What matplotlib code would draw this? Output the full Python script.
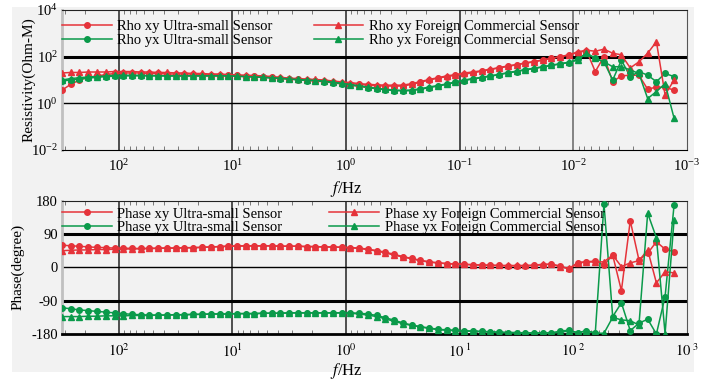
import matplotlib
matplotlib.use("Agg")
import matplotlib.pyplot as plt
from matplotlib.patches import Rectangle
from matplotlib.ticker import LogLocator, NullLocator, FixedLocator

plt.rcParams['font.family'] = ['Liberation Serif', 'DejaVu Serif']
plt.rcParams['mathtext.fontset'] = 'stix'

# frequencies (Hz), high to low
freq = [316, 265, 222, 186, 156, 130, 109, 91.5, 76.7, 64.2, 53.8, 45.1, 37.8,
        31.6, 26.5, 22.2, 18.6, 15.6, 13.0, 10.9, 9.15, 7.67, 6.42, 5.38, 4.51, 3.78,
        3.16, 2.65, 2.22, 1.86, 1.56, 1.30, 1.09, 0.915, 0.767, 0.642, 0.538, 0.451, 0.378,
        0.316, 0.265, 0.222, 0.186, 0.156, 0.130, 0.109, 0.0915, 0.0767, 0.0642, 0.0538, 0.0451, 0.0378,
        0.0316, 0.0265, 0.0222, 0.0186, 0.0156, 0.0130, 0.0109, 0.00915, 0.00767, 0.00642, 0.00538, 0.00451, 0.00378,
        0.00316, 0.00265, 0.00222, 0.00186, 0.00156, 0.00130]

# apparent resistivity (Ohm-m)
rho_xy_us = [3.7, 6.5, 10, 13, 15, 17, 19, 20, 20, 20, 19, 19, 18,
             18, 18, 18, 17, 17, 17, 16, 16, 15, 15, 14, 13, 12,
             11, 10.5, 10, 9.5, 9, 8.3, 7.7, 7, 6.5, 6, 5.7, 5.5, 5.5,
             5.5, 6.5, 8, 10, 12, 14, 16, 18, 20, 24, 28, 33, 38,
             45, 52, 60, 72, 85, 100, 120, 150, 180, 23, 100, 8.5, 15,
             16, 16, 4, 5, 4.8, 3.7]
rho_xy_f = [20, 21, 21, 22, 22, 22, 23, 23, 23, 22, 22, 21, 21,
            20, 20, 19, 19, 18, 18, 17, 16.5, 16, 15.5, 15, 14, 13,
            12, 11.5, 11, 10.5, 10, 9, 8.3, 7.7, 7, 6.5, 6.2, 6, 6,
            6, 7, 8.5, 10.5, 12.5, 15, 17, 20, 22, 25, 29, 34, 40,
            46, 54, 62, 72, 85, 100, 120, 160, 190, 170, 210, 140, 120,
            33, 60, 140, 440, 2.3, 10]
rho_yx_us = [9, 10, 11, 12, 13, 14, 14.5, 15, 15, 15, 15, 15, 15,
             15, 15, 15, 15, 15, 15, 15, 14.5, 14, 13.5, 13, 12, 11.5,
             11, 10, 9.5, 9, 8.5, 7.5, 6.8, 6, 5.3, 4.7, 4.2, 3.8, 3.5,
             3.4, 3.5, 4, 4.7, 5.5, 6.5, 8, 9.5, 11, 12.5, 14.5, 17, 20,
             23, 27, 31, 36, 42, 49, 56, 80, 140, 85, 60, 10, 70,
             14, 23, 16, 8.5, 19, 14]
rho_yx_f = [10, 11.5, 12.5, 13.5, 14, 15, 16, 16, 16, 16, 15.5, 15.5, 15,
            15, 15, 15, 15, 15, 15, 15, 14.5, 14, 13.5, 13, 12.5, 12,
            11, 10.5, 10, 9.5, 9, 8, 7.2, 6.4, 5.6, 5, 4.4, 4, 3.7,
            3.6, 3.7, 4.2, 5, 5.8, 6.8, 8.3, 10, 11.5, 13, 15, 17.5, 20.5,
            24, 28, 32, 37, 43, 50, 58, 70, 140, 85, 60, 37, 37,
            27, 19, 1.6, 3.2, 7, 0.23]

# impedance phase (degree)
ph_xy_us = [60, 58, 57, 55, 54, 53, 52, 52, 51, 51, 51, 52, 52,
            52, 53, 53, 54, 55, 56, 57, 58, 58, 58, 58, 58, 57,
            57, 57, 56, 56, 55, 55, 54, 53, 52, 49, 45, 41, 35,
            29, 24, 19, 15, 12, 10, 9, 8, 7, 6, 5, 5, 4,
            4, 4, 5, 7, 9, 3, -5, 11, 15, 17, 6, 33, -63,
            126, 20, 38, 69, 49, 42]
ph_xy_f = [45, 46, 47, 47, 48, 48, 49, 49, 50, 50, 51, 51, 52,
           52, 53, 53, 54, 55, 56, 57, 57, 58, 58, 58, 58, 57,
           57, 57, 56, 56, 55, 55, 54, 53, 51, 48, 44, 39, 33,
           28, 23, 18, 14, 12, 10, 9, 8, 7, 6, 6, 5, 5,
           5, 5, 6, 8, 8, 2, -3, 13, 15, 14, 15, 33, 2,
           12, 18, 47, -42, -12, -15]
ph_yx_us = [-109, -112, -115, -117, -119, -121, -123, -125, -127, -128, -129, -129, -129,
            -128, -128, -127, -127, -126, -126, -126, -125, -125, -125, -124, -124, -124,
            -123, -123, -123, -123, -123, -123, -123, -123, -124, -126, -130, -136, -143,
            -150, -156, -160, -164, -167, -169, -170, -171, -172, -173, -174, -175, -176,
            -176, -177, -177, -177, -177, -172, -170, -177, -171, -178, 171, -133, -96,
            -171, -151, -140, -180, -79, 168]
ph_yx_f = [-133, -133, -133, -132, -132, -131, -131, -131, -130, -130, -130, -129, -129,
           -128, -128, -127, -127, -126, -126, -126, -125, -125, -125, -124, -124, -124,
           -123, -123, -123, -123, -123, -123, -123, -124, -126, -129, -133, -139, -146,
           -152, -157, -161, -165, -168, -170, -171, -172, -173, -174, -175, -176, -176,
           -177, -177, -178, -178, -178, -175, -172, -176, -172, -178, -178, -135, -142,
           -144, -156, 146, 80, -179, 128]

phase_ticks = [-180, -90, 0, 90, 180]
phase_ticklabels = ['-180', '-90', '0', '90', '180']
freq_ticks = [1e2, 1e1, 1e0, 1e-1, 1e-2, 1e-3]
bottom_freq_labels = [r'$10^{2}$', r'$10^{1}$', r'$10^{0}$', r'$10^{\ 1}$', r'$10^{\ 2}$', r'$10^{\ 3}$']

RED = '#e5333a'
GREEN = '#0a9a4a'
BG = '#f2f2f2'

fig = plt.figure(figsize=(7.17, 3.8), dpi=100, facecolor='white')
fig.patches.append(Rectangle((12 / 717, 1 - 372 / 380), 682 / 717, 365 / 380,
                             transform=fig.transFigure, facecolor=BG,
                             edgecolor='none', zorder=-5))

ax1 = fig.add_axes([0.0865, 0.6053, 0.8717, 0.3684])
ax2 = fig.add_axes([0.0865, 0.1211, 0.8717, 0.3508])


def style_axes(ax):
    ax.set_facecolor(BG)
    ax.set_xscale('log')
    ax.set_xlim(316.2, 1e-3)
    ax.xaxis.set_major_locator(FixedLocator(freq_ticks))
    ax.xaxis.set_minor_locator(LogLocator(base=10, subs=range(2, 10), numticks=20))
    ax.tick_params(which='major', length=0, labelsize=10.5, pad=6)
    ax.tick_params(which='minor', axis='x', direction='in', top=True, bottom=True,
                   length=3, width=0.6, color='#666666')
    ax.tick_params(axis='y', pad=3)
    for f in freq_ticks[:-1]:
        ax.axvline(f, color='#666666' if f == 1e-2 else '#222222', lw=1.1, zorder=1)
    ax.spines['top'].set_color('#222222')
    ax.spines['right'].set_color('#555555')
    ax.spines['left'].set_color('#c0c0c0')
    ax.spines['left'].set_linewidth(2)
    ax.set_xlabel(r'$f$/Hz', fontsize=12)


# resistivity
style_axes(ax1)
ax1.xaxis.set_label_coords(0.455, -0.205)
ax1.set_yscale('log')
ax1.set_ylim(1e-2, 1e4)
ax1.yaxis.set_major_locator(FixedLocator([1e-2, 1e0, 1e2, 1e4]))
ax1.yaxis.set_minor_locator(NullLocator())
ax1.axhline(1e2, color='black', lw=2.2, zorder=1)
ax1.axhline(1e0, color='black', lw=1, zorder=1)
ax1.plot(freq, rho_xy_us, color=RED, marker='o', ms=4, lw=1.1, label='Rho xy Ultra-small Sensor', zorder=3)
ax1.plot(freq, rho_yx_us, color=GREEN, marker='o', ms=4, lw=1.1, label='Rho yx Ultra-small Sensor', zorder=3)
ax1.plot(freq, rho_xy_f, color=RED, marker='^', ms=4, lw=1.1, label='Rho xy Foreign Commercial Sensor', zorder=3)
ax1.plot(freq, rho_yx_f, color=GREEN, marker='^', ms=4, lw=1.1, label='Rho yx Foreign Commercial Sensor', zorder=3)
ax1.set_ylabel('Resistivity(Ohm-M)', fontsize=11)
ax1.yaxis.set_label_coords(-0.043, 0.5)
ax1.legend(loc='upper left', bbox_to_anchor=(0.0, 0.93), ncol=2, frameon=False,
           fontsize=10.5, handlelength=3.4, handletextpad=0.4, columnspacing=2.8,
           labelspacing=0.05, borderpad=0, borderaxespad=0, numpoints=1)

# phase
style_axes(ax2)
ax2.xaxis.set_label_coords(0.455, -0.2)
ax2.set_ylim(-180, 180)
ax2.set_yticks(phase_ticks)
ax2.set_yticklabels(phase_ticklabels)
ax2.set_xticklabels(bottom_freq_labels)
ax2.spines['bottom'].set_linewidth(2)
ax2.axhline(90, color='black', lw=2.2, zorder=1)
ax2.axhline(-90, color='black', lw=2.2, zorder=1)
ax2.axhline(0, color='black', lw=1, zorder=1)
ax2.plot(freq, ph_xy_us, color=RED, marker='o', ms=4, lw=1.1, label='Phase xy Ultra-small Sensor', zorder=3)
ax2.plot(freq, ph_yx_us, color=GREEN, marker='o', ms=4, lw=1.1, label='Phase yx Ultra-small Sensor', zorder=3)
ax2.plot(freq, ph_xy_f, color=RED, marker='^', ms=4, lw=1.1, label='Phase xy Foreign Commercial Sensor', zorder=3)
ax2.plot(freq, ph_yx_f, color=GREEN, marker='^', ms=4, lw=1.1, label='Phase yx Foreign Commercial Sensor', zorder=3)
ax2.set_ylabel('Phase(degree)', fontsize=11)
ax2.yaxis.set_label_coords(-0.06, 0.5)
ax2.legend(loc='upper left', bbox_to_anchor=(0.0, 0.95), ncol=2, frameon=False,
           fontsize=10.5, handlelength=3.4, handletextpad=0.4, columnspacing=3.2,
           labelspacing=0.05, borderpad=0, borderaxespad=0, numpoints=1)

fig.savefig('out.png', dpi=100, facecolor='white')
